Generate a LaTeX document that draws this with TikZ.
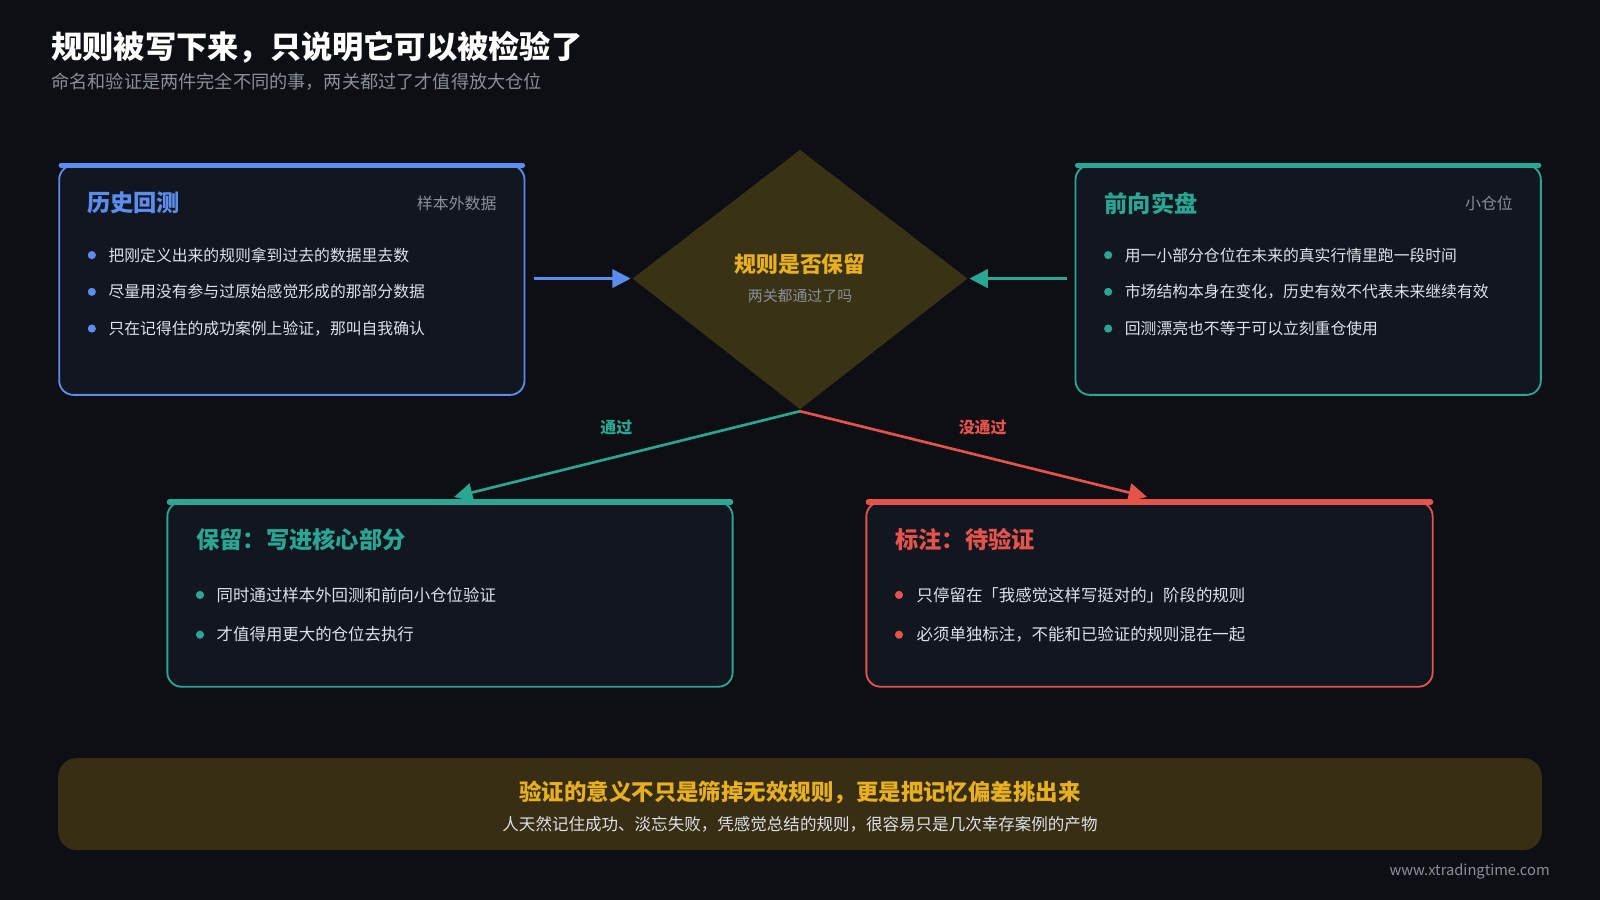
\documentclass[tikz,border=0pt]{standalone}
\usepackage{fontspec}
\setmainfont{Noto Sans CJK SC}
\usetikzlibrary{shapes.geometric,arrows.meta}
\definecolor{bg}{HTML}{0D0F14}
\definecolor{boxfill}{HTML}{111620}
\definecolor{cblue}{HTML}{5B8DEF}
\definecolor{cteal}{HTML}{2AA693}
\definecolor{cred}{HTML}{E5534B}
\definecolor{cgold}{HTML}{E8B020}
\definecolor{dfill}{HTML}{3A3215}
\definecolor{bfill}{HTML}{382E14}
\definecolor{cgray}{HTML}{8A8F99}
\definecolor{ctext}{HTML}{DDE1E8}
\begin{document}
\begin{tikzpicture}[x=0.5pt,y=-0.5pt,
  card/.style={draw=#1,line width=0.9pt,fill=boxfill,rounded corners=7pt},
  bar/.style={draw=#1,line width=2.6pt,line cap=round},
  ctitle/.style={anchor=west,text=#1,font=\fontsize{11.4}{13}\selectfont\bfseries,inner sep=0},
  ctag/.style={anchor=east,text=cgray,font=\fontsize{7.8}{9}\selectfont,inner sep=0},
  btext/.style={anchor=west,text=ctext,font=\fontsize{7.75}{9}\selectfont,inner sep=0},
  btextb/.style={anchor=west,text=ctext,font=\fontsize{8.05}{9}\selectfont,inner sep=0},
  dot/.style={circle,fill=#1,inner sep=0,minimum size=4pt},
  arr/.style={line width=1.3pt,draw=#1,-{Triangle[length=9pt,width=9pt]}},
  lbl/.style={text=#1,font=\fontsize{7.8}{9}\selectfont\bfseries,inner sep=0}]
\fill[bg] (0,0) rectangle (1568,882);
\useasboundingbox (0,0) rectangle (1568,882);
\node[anchor=west,text=white,font=\fontsize{15.3}{17}\selectfont\bfseries,inner sep=0] (title) at (50,46) {规则被写下来，只说明它可以被检验了};
\node[anchor=west,text=cgray,font=\fontsize{8.9}{10}\selectfont,inner sep=0] (sub) at (50,80) {命名和验证是两件完全不同的事，两关都过了才值得放大仓位};
% left card
\draw[card=cblue] (58,162) rectangle (514,387);
\draw[bar=cblue] (60,162) -- (512,162);
\node[ctitle=cblue] (lt) at (85,199) {历史回测};
\node[ctag] (ltag) at (487,199) {样本外数据};
\foreach \y/\t [count=\i] in {250/把刚定义出来的规则拿到过去的数据里去数,286/尽量用没有参与过原始感觉形成的那部分数据,322/只在记得住的成功案例上验证，那叫自我确认}{
  \node[dot=cblue] (ld\i) at (90,\y) {};
  \node[btext] (lb\i) at (106,\y) {\t};}
% right card
\draw[card=cteal] (1054,162) rectangle (1510,387);
\draw[bar=cteal] (1056,162) -- (1508,162);
\node[ctitle=cteal] (rt) at (1082,199) {前向实盘};
\node[ctag] (rtag) at (1483,199) {小仓位};
\foreach \y/\t [count=\i] in {250/用一小部分仓位在未来的真实行情里跑一段时间,286/市场结构本身在变化，历史有效不代表未来继续有效,322/回测漂亮也不等于可以立刻重仓使用}{
  \node[dot=cteal] (rd\i) at (1086,\y) {};
  \node[btext] (rb\i) at (1102,\y) {\t};}
% diamond
\fill[dfill] (784,147) -- (948,273) -- (784,401) -- (620,273) -- cycle;
\coordinate (dL) at (618,273);
\coordinate (dR) at (950,273);
\coordinate (dB) at (784,403);
\node[text=cgold,font=\fontsize{10.7}{12}\selectfont\bfseries,inner sep=0] (dt) at (784,259) {规则是否保留};
\node[text=cgray,font=\fontsize{7.3}{9}\selectfont,inner sep=0] (ds) at (784,290) {两关都通过了吗};
\coordinate (la) at (523,273);
\coordinate (ra) at (1046,273);
\draw[arr=cblue] (la) -- (dL);
\draw[arr=cteal] (ra) -- (dR);
% bottom cards
\draw[card=cteal] (164,492) rectangle (718,673);
\draw[bar=cteal] (166,492) -- (716,492);
\node[ctitle=cteal] (bt1) at (192,529) {保留：写进核心部分};
\foreach \y/\t [count=\i] in {583/同时通过样本外回测和前向小仓位验证,622/才值得用更大的仓位去执行}{
  \node[dot=cteal] (bd\i) at (196,\y) {};
  \node[btextb] (bb\i) at (212,\y) {\t};}
\draw[card=cred] (849,492) rectangle (1404,673);
\draw[bar=cred] (851,492) -- (1402,492);
\node[ctitle=cred] (bt2) at (877,529) {标注：待验证};
\foreach \y/\t [count=\i] in {583/只停留在「我感觉这样写挺对的」阶段的规则,622/必须单独标注，不能和已验证的规则混在一起}{
  \node[dot=cred] (cd\i) at (881,\y) {};
  \node[btextb] (cb\i) at (898,\y) {\t};}
\coordinate (pa) at (445,487);
\coordinate (fa) at (1124,487);
\draw[arr=cteal] (dB) -- (pa);
\draw[arr=cred] (dB) -- (fa);
\node[lbl=cteal] (pl) at (604,419) {通过};
\node[lbl=cred] (fl) at (963,419) {没通过};
% banner
\fill[bfill,rounded corners=9pt] (57,743) rectangle (1511,833);
\node[text=cgold,font=\fontsize{11}{13}\selectfont\bfseries,inner sep=0] (bn1) at (784,777) {验证的意义不只是筛掉无效规则，更是把记忆偏差挑出来};
\node[text=ctext,font=\fontsize{8.1}{9}\selectfont,inner sep=0] (bn2) at (784,808) {人天然记住成功、淡忘失败，凭感觉总结的规则，很容易只是几次幸存案例的产物};
\node[anchor=east,text=cgray,font=\fontsize{7.2}{9}\selectfont,inner sep=0] (url) at (1519,854) {www.xtradingtime.com};
\end{tikzpicture}
\end{document}
